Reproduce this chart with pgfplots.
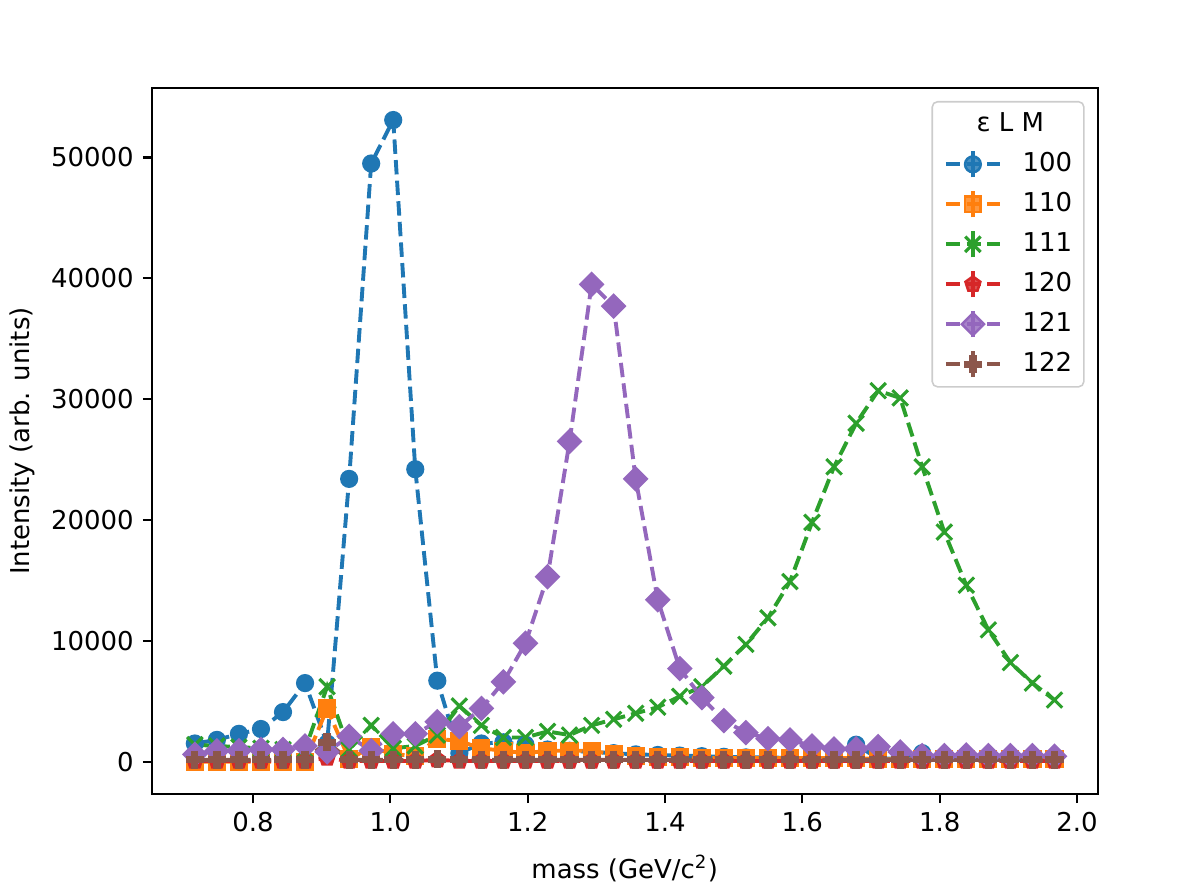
\documentclass[border=0pt]{standalone}
\usepackage{fontspec}
\setmainfont{DejaVu Sans}
\usepackage{pgfplots}
\pgfplotsset{compat=1.18}
\usepackage{pgfplotstable}
\usetikzlibrary{plotmarks}

\definecolor{c0}{HTML}{1F77B4}
\definecolor{c1}{HTML}{FF7F0E}
\definecolor{c2}{HTML}{2CA02C}
\definecolor{c3}{HTML}{D62728}
\definecolor{c4}{HTML}{9467BD}
\definecolor{c5}{HTML}{8C564B}

\pgfplotstableread{
x a b c d e f
0.7153 1500 0 1400 50 600 150
0.7474 1800 0 1300 50 900 150
0.7795 2300 0 1200 50 900 150
0.8116 2700 0 1100 50 1000 150
0.8437 4100 0 1000 50 1000 150
0.8758 6500 0 1000 50 1300 150
0.9079 1500 4400 6200 300 800 1600
0.9400 23400 200 1000 50 2100 150
0.9721 49500 1200 3000 50 900 150
1.0042 53100 600 1100 50 2300 150
1.0363 24200 500 1300 50 2300 150
1.0684 6700 1900 2200 150 3300 200
1.1005 700 1700 4600 50 2900 200
1.1326 1500 1100 3000 50 4400 150
1.1647 1600 900 2000 50 6600 150
1.1968 1400 700 2000 50 9800 150
1.2289 1000 900 2500 50 15300 150
1.2610 900 900 2200 50 26500 150
1.2931 800 900 3000 50 39500 150
1.3252 700 600 3500 50 37700 150
1.3573 600 500 4000 50 23400 150
1.3894 550 400 4500 50 13400 150
1.4215 500 400 5400 50 7700 150
1.4536 450 300 6200 50 5300 150
1.4857 400 300 7900 50 3400 150
1.5178 350 300 9700 50 2400 150
1.5499 350 300 11900 50 1900 150
1.5820 300 300 14900 50 1800 150
1.6141 300 300 19800 50 1300 150
1.6462 300 300 24400 50 1050 150
1.6783 1400 300 28000 50 1050 150
1.7104 250 200 30700 50 1250 150
1.7425 250 200 30100 50 800 150
1.7746 700 200 24400 50 500 150
1.8067 200 200 19000 50 500 150
1.8388 200 200 14600 50 550 150
1.8709 200 200 10900 50 500 150
1.9030 200 200 8200 50 500 150
1.9351 150 200 6500 50 500 150
1.9672 150 200 5100 50 450 150
}\data

\pgfplotsset{ser/.style={line width=1.5pt, dash pattern=on 5.55pt off 2.4pt}}

\begin{document}
\begin{tikzpicture}
\begin{axis}[
  name=ax,
  scale only axis,
  width=364.3pt, height=272pt,
  xmin=0.6527, xmax=2.030,
  ymin=-2690, ymax=55750,
  xtick={0.8,1.0,1.2,1.4,1.6,1.8,2.0},
  ytick={0,10000,20000,30000,40000,50000},
  xticklabel style={/pgf/number format/.cd, fixed, fixed zerofill, precision=1},
  /pgf/number format/assume math mode=true,
  /pgf/number format/1000 sep={},
  scaled ticks=false,
  tick align=outside,
  tick pos=left,
  major tick length=3.5pt,
  tick style={black, line width=0.8pt},
  axis line style={line width=0.8pt},
  xlabel={mass (GeV/c\textsuperscript{2})},
  ylabel={Intensity (arb. units)},
  xlabel style={at={(axis description cs:0.5,-0.105)}, anchor=center},
  ylabel style={at={(axis description cs:-0.1374,0.5)}, anchor=center},
  legend cell align=left,
  legend style={at={(1,1)}, anchor=north east, xshift=-5pt, yshift=-5pt,
    draw=black!20, line width=0.6pt, rounded corners=2pt, fill=white, fill opacity=0.8, text opacity=1,
    inner xsep=4.5pt, inner ysep=1pt, row sep=0pt, column sep=8pt,
    nodes={inner sep=0pt, text height=10.4pt, text depth=5pt}},
  legend image code/.code={
    \draw[solid, line width=1.5pt] (10.4pt,-5pt) -- (10.4pt,5pt);
    \draw[mark repeat=2,mark phase=2] plot coordinates {(0pt,0pt) (10.4pt,0pt) (20.8pt,0pt)};
  },
]
\addlegendimage{empty legend}
\addlegendentry{\hspace*{-17.7pt}ε L M}

\addplot[ser, color=c0, mark=*, mark size=3pt, mark options={solid, line width=1pt, fill=c0}] table[x=x, y=a] {\data};
\addlegendentry{100}
\addplot[ser, color=c1, mark=square*, mark size=3pt, mark options={solid, line width=1pt, fill=c1}] table[x=x, y=b] {\data};
\addlegendentry{110}
\addplot[ser, color=c2, mark=x, mark size=4.2pt, mark options={solid, line width=1.2pt}] table[x=x, y=c] {\data};
\addlegendentry{111}
\addplot[ser, color=c3, mark=pentagon*, mark size=3pt, mark options={solid, line width=1pt, fill=c3}] table[x=x, y=d] {\data};
\addlegendentry{120}
\addplot[ser, color=c4, mark=square*, mark size=3pt, mark options={solid, line width=1pt, fill=c4, rotate=45}] table[x=x, y=e] {\data};
\addlegendentry{121}
\addplot[ser, color=c5, mark=+, mark size=3.5pt, mark options={solid, line width=2.8pt}] table[x=x, y=f] {\data};
\addlegendentry{122}
\end{axis}
\pgfresetboundingbox
\path[use as bounding box] ([shift={(-58.5pt,-37.4pt)}]ax.south west) rectangle ([shift={(37.9pt,33.9pt)}]ax.north east);
\end{tikzpicture}
\end{document}
